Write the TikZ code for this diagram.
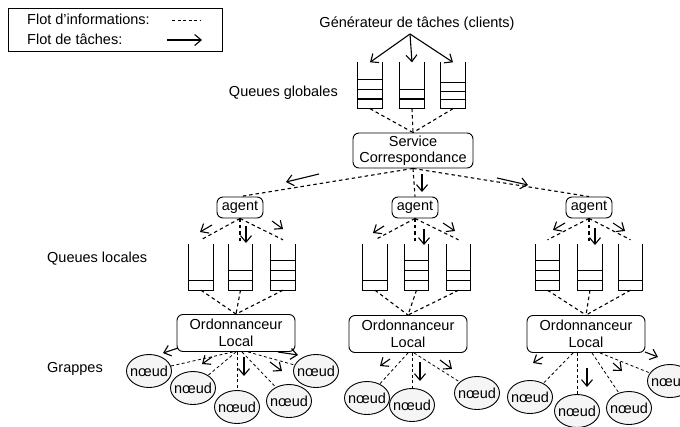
\documentclass[tikz,border=0pt]{standalone}
\usepackage{fontspec}
\setmainfont{Liberation Sans}
\usetikzlibrary{arrows.meta,calc,shapes.geometric}
\newcommand\drawqueue[3]{%
  \draw[lw] (#1.north west) -- (#1.south west) -- (#1.south east) -- (#1.north east);
  \foreach \k in {1,...,#2}{\draw[lw] ($(#1.south west)+(0,{-\k*#3})$) -- ($(#1.south east)+(0,{-\k*#3})$);}
}
\begin{document}
\begin{tikzpicture}[x=1pt,y=-1pt,
  font=\fontsize{14.5}{16.5}\selectfont,
  lw/.style={line width=1.1pt},
  info/.style={dash pattern=on 3.5pt off 3pt, line width=1.1pt},
  infothin/.style={dash pattern=on 3pt off 2.5pt, line width=0.8pt},
  task/.style={line width=1.1pt, -{Straight Barb[length=6.5pt,width=11pt,line width=1.1pt]}},
  rbox/.style={draw, rounded corners=6pt, line width=0.9pt, align=center, inner sep=0pt},
  qbox/.style={minimum width=24pt, minimum height=46pt, inner sep=0pt},
  noeud/.style={draw, ellipse, fill=gray!8, minimum width=45pt, minimum height=33pt, inner sep=0pt, line width=0.9pt},
  lab/.style={inner sep=0pt},
]
\useasboundingbox (0,0) rectangle (680,426);

% legend
\node[draw, line width=0.8pt, minimum width=214pt, minimum height=43pt, anchor=north west, inner sep=0pt] (leg) at (8,8) {};
\node[lab, anchor=west] (l1) at (27,19) {Flot d'informations:};
\node[lab, anchor=west] (l2) at (27,39) {Flot de tâches:};
\coordinate (d1a) at (172,20); \coordinate (d1b) at (201,20);
\draw[infothin] (d1a) -- (d1b);
\coordinate (t1a) at (167,40); \coordinate (t1b) at (202,40);
\draw[task] (t1a) -- (t1b);

% labels
\node[lab] (gen) at (417,24) {Générateur de tâches (clients)};
\node[lab, anchor=east] (qg) at (338,93) {Queues globales};
\node[lab, anchor=west] (ql) at (47,259) {Queues locales};
\node[lab, anchor=west] (gr) at (47,369) {Grappes};

% global queues
\node[qbox] (g1) at (370,85.5) {};
\node[qbox] (g2) at (412,85.5) {};
\node[qbox] (g3) at (453,85.5) {};
\drawqueue{g1}{3}{9.7}
\drawqueue{g2}{2}{9.7}
\drawqueue{g3}{3}{8.8}
\coordinate (gsrc) at (410,34);
\draw[task] (gsrc) -- (g1.north);
\draw[task] (gsrc) -- (g2.north);
\draw[task] (gsrc) -- (g3.north);

% service
\node[rbox, minimum width=120pt, minimum height=35pt] (svc) at (413,150.5) {Service\\Correspondance};
\foreach \g in {g1,g2,g3}{\draw[info] (\g.south) -- (svc.north);}

% agents
\node[rbox, minimum width=46pt, minimum height=21pt] (a1) at (240,207.5) {agent};
\node[rbox, minimum width=46pt, minimum height=21pt] (a2) at (415,207.5) {agent};
\node[rbox, minimum width=46pt, minimum height=21pt] (a3) at (589,207.5) {agent};
\draw[info] (svc.south) -- (a1.north);
\draw[info] (svc.south) -- (a2.north);
\draw[info] (svc.south) -- (a3.north);
\draw[task] (319,174) -- (286,182);
\draw[task] (422,174) -- (422,192);
\draw[task] (497,178) -- (528,185);

% local queues
\node[qbox] (q11) at (201,267) {};
\node[qbox] (q12) at (240.5,267) {};
\node[qbox] (q13) at (283,267) {};
\node[qbox] (q21) at (375,267) {};
\node[qbox] (q22) at (416.5,267) {};
\node[qbox] (q23) at (458.5,267) {};
\node[qbox] (q31) at (547.5,267) {};
\node[qbox] (q32) at (590,267) {};
\node[qbox] (q33) at (630.5,267) {};
\drawqueue{q11}{1}{9.5}
\drawqueue{q12}{2}{10}
\drawqueue{q13}{3}{10}
\drawqueue{q21}{1}{10}
\drawqueue{q22}{3}{10}
\drawqueue{q23}{2}{10}
\drawqueue{q31}{3}{10}
\drawqueue{q32}{2}{10}
\drawqueue{q33}{1}{10}

\foreach \a/\l/\m/\r in {a1/q11/q12/q13, a2/q21/q22/q23, a3/q31/q32/q33}{
  \draw[info] (\a.south) -- ($(\l.north)+(0,-4)$);
  \draw[info] (\a.south) -- (\a.south |- \m.north);
  \draw[info] (\a.south) -- ($(\r.north)+(0,-4)$);
}
\draw[task] (212,225) -- (200,232);
\draw[task] (246,226) -- (246,243);
\draw[task] (272,221) -- (283,229);
\draw[task] (384,226) -- (373,233);
\draw[task] (424,229) -- (424,245);
\draw[task] (443,223) -- (455,231);
\draw[task] (565,223) -- (553,230);
\draw[task] (595,228) -- (595,245);
\draw[task] (613,223) -- (625,231);

% schedulers
\node[rbox, minimum width=118pt, minimum height=37pt] (o1) at (236,333) {Ordonnanceur\\Local};
\node[rbox, minimum width=118pt, minimum height=37pt] (o2) at (408,334) {Ordonnanceur\\Local};
\node[rbox, minimum width=118pt, minimum height=37pt] (o3) at (586,334) {Ordonnanceur\\Local};
\foreach \o/\l/\m/\r in {o1/q11/q12/q13, o2/q21/q22/q23, o3/q31/q32/q33}{
  \draw[info] (\l.south) -- (\o.north);
  \draw[info] (\m.south) -- (\o.north);
  \draw[info] (\r.south) -- (\o.north);
}

% nodes (grappes)
\node[noeud] (e11) at (149,371) {\makebox[0pt]{nœud}};
\node[noeud] (e12) at (193,388) {\makebox[0pt]{nœud}};
\node[noeud] (e13) at (237,407) {\makebox[0pt]{nœud}};
\node[noeud] (e14) at (289,401) {\makebox[0pt]{nœud}};
\node[noeud] (e15) at (316,371) {\makebox[0pt]{nœud}};
\node[noeud] (e21) at (367,398) {\makebox[0pt]{nœud}};
\node[noeud] (e22) at (412,405) {\makebox[0pt]{nœud}};
\node[noeud] (e23) at (477,393) {\makebox[0pt]{nœud}};
\node[noeud] (e31) at (530,397) {\makebox[0pt]{nœud}};
\node[noeud] (e32) at (577,411) {\makebox[0pt]{nœud}};
\node[noeud] (e33) at (629,408) {\makebox[0pt]{nœud}};
\node[noeud] (e34) at (670,381) {\makebox[0pt]{nœud}};

\draw[infothin] ($(o1.south)+(-3,0)$) -- (e11);
\draw[infothin] (o1.south) -- (e12);
\draw[infothin] (o1.south -| e13) -- (e13);
\draw[infothin] ($(o1.south)+(6,0)$) -- (e14);
\draw[infothin] ($(o1.south)+(12,0)$) -- (e15);
\draw[infothin] (o2.south) -- (e21);
\draw[infothin] (o2.south -| e22) -- (e22);
\draw[infothin] ($(o2.south)+(6,0)$) -- (e23);
\draw[infothin] ($(o3.south)+(-13,0)$) -- (e31);
\draw[infothin] (o3.south -| e32) -- (e32);
\draw[infothin] ($(o3.south)+(6,0)$) -- (e33);
\draw[infothin] ($(o3.south)+(14,0)$) -- (e34);

\draw[task] (178,348) -- (163,353);
\draw[task] (212,357) -- (202,364);
\draw[task] (244,357) -- (244,376);
\draw[task] (270,362) -- (282,371);
\draw[task] (278,352) -- (298,355);
\draw[task] (390,359) -- (380,366);
\draw[task] (420,362) -- (420,381);
\draw[task] (440,360) -- (452,369);
\draw[task] (543,357) -- (533,363);
\draw[task] (587,368) -- (587,387);
\draw[task] (613,363) -- (622,371);
\draw[task] (645,352) -- (658,357);
\end{tikzpicture}
\end{document}
